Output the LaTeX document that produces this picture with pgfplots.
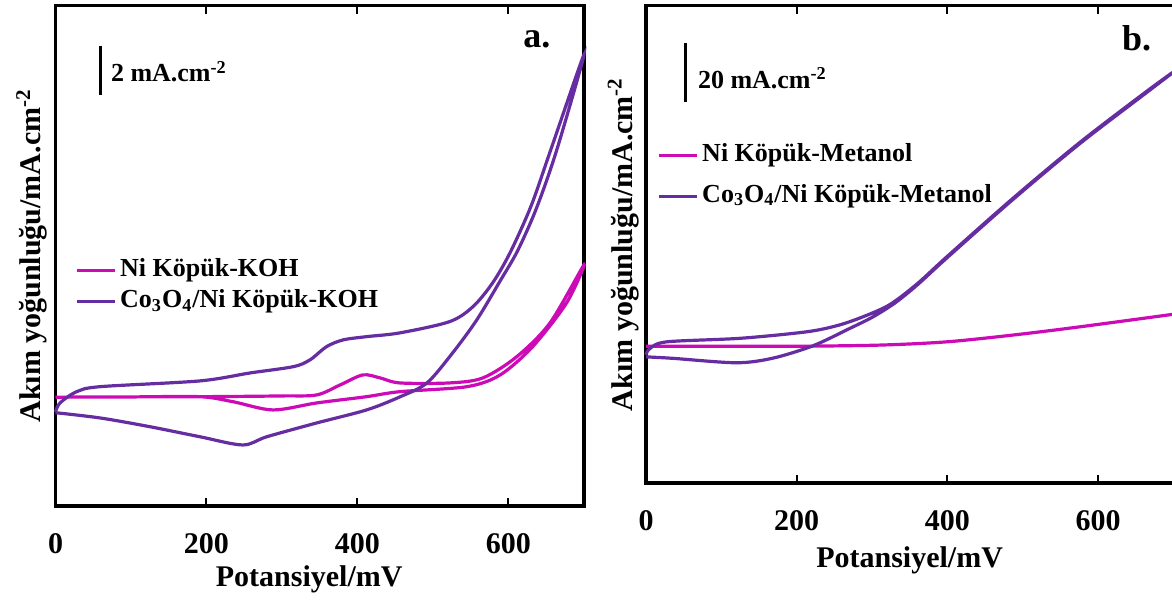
\documentclass[border=0pt]{standalone}
\usepackage{fontspec}
\setmainfont{Liberation Serif}
\usepackage{pgfplots}
\pgfplotsset{compat=1.18}
\definecolor{nimag}{RGB}{204,10,182}
\definecolor{copur}{RGB}{102,45,162}

\pgfplotsset{cvpanel/.style={
    scale only axis,
    anchor=south west,
    xmin=0, xmax=700,
    xtick={0,200,400,600},
    ytick=\empty,
    tick align=inside,
    major tick length=4bp,
    axis line style={line width=1.8bp},
    every tick/.style={black, line width=1bp},
    /pgf/number format/assume math mode=true,
    xticklabel style={font=\fontsize{15bp}{18bp}\selectfont\bfseries, anchor=center, yshift=-19bp},
    xlabel={Potansiyel/mV},
    ylabel={Akım yoğunluğu/mA.cm\textsuperscript{-2}},
    label style={font=\fontsize{15bp}{18bp}\selectfont\bfseries},
    legend cell align=left,
    legend style={draw=none, fill=none, inner sep=0pt, anchor=north west,
        font=\fontsize{13bp}{15bp}\selectfont\bfseries,
        nodes={text height=9bp, text depth=3bp, inner sep=1.75bp}},
    legend image code/.code={\draw[#1, line width=1.6bp] (0bp,0bp) -- (19bp,0bp);},
    every axis plot/.append style={line width=1.6bp, smooth, tension=0.5},
    clip=false,
}}

\begin{document}
\begin{tikzpicture}
% panel a
\begin{axis}[cvpanel,
    at={(27.75bp,47.5bp)}, width=264.25bp, height=250.15bp,
    ymin=0, ymax=20,
    xlabel style={at={(axis description cs:0.48,-0.146)}, anchor=center},
    ylabel style={at={(axis description cs:-0.045,0.5)}, anchor=center},
    legend style={at={(rel axis cs:0.037,0.502)}},
]
\addplot[nimag] coordinates {
    (0,4.35) (59,4.36) (191,4.37) (300,4.40) (346,4.44) (377,4.84) (407,5.24)
    (430,5.12) (456,4.92) (522,4.92) (566,5.12) (611,5.97) (655,7.32) (700,9.64)
    (677,8.12) (632,6.37) (589,5.24) (545,4.77) (456,4.57) (412,4.37) (346,4.12)
    (288,3.84) (235,4.17) (191,4.37) (100,4.36) (0,4.35)
};
\addlegendentry{Ni Köpük-KOH}
\addplot[copur] coordinates {
    (0,3.76) (6,4.12) (28,4.57) (59,4.77) (191,5.0) (258,5.32) (315,5.57)
    (337,5.84) (359,6.37) (381,6.64) (412,6.77) (456,6.92) (522,7.37) (553,7.97)
    (579,8.92) (602,10.12) (630,12.0) (656,14.24) (700,18.04)
    (664,14.24) (637,11.9) (612,10.2) (589,9.0) (558,7.44) (526,6.12) (492,4.92) (456,4.36)
    (412,3.84) (346,3.32) (280,2.77) (248,2.44) (191,2.77) (125,3.17) (59,3.52) (0,3.73)
};
\addlegendentry{Co\textsubscript{3}O\textsubscript{4}/Ni Köpük-KOH}
\draw[line width=1.5bp] (axis cs:59,18.4) -- (axis cs:59,16.44);
\node[anchor=west, inner sep=0pt, font=\fontsize{13bp}{15bp}\selectfont\bfseries]
    at (axis cs:73,17.36) {2 mA.cm\textsuperscript{-2}};
\node[font=\fontsize{18bp}{20bp}\selectfont\bfseries] at (rel axis cs:0.911,0.932) {a.};
\end{axis}
% panel b
\begin{axis}[cvpanel,
    at={(323bp,59bp)}, width=265.2bp, height=238.7bp,
    xmax=704, ymin=0, ymax=162,
    xlabel style={at={(axis description cs:0.497,-0.162)}, anchor=center},
    ylabel style={at={(axis description cs:-0.043,0.5)}, anchor=center},
    legend style={at={(rel axis cs:0.021,0.72)}, row sep=5bp},
]
\addplot[nimag] coordinates {
    (0,46.4) (100,46.4) (200,46.4) (311,46.8) (399,47.9) (487,50.2) (576,53.0) (704,57.4)
};
\addlegendentry{Ni Köpük-Metanol}
\addplot[copur] coordinates {
    (0,43.5) (5,45.6) (27.5,47.9) (125,49.1) (213,51.3) (255,53.5) (290,56.6) (324,60.6)
    (360,67.6) (399,76.7) (487,96.6) (576,115.6) (665,133.0) (704,140.2)
    (665,132.6) (576,115.2) (487,96.2) (399,76.3) (360,67.2) (330,61.0) (300,56.2)
    (270,52.4) (222,46.6) (169,42.4) (120,40.8) (36,42.3) (0,42.8)
};
\addlegendentry{Co\textsubscript{3}O\textsubscript{4}/Ni Köpük-Metanol}
\draw[line width=1.5bp] (axis cs:52.8,149.3) -- (axis cs:52.8,129.2);
\node[anchor=west, inner sep=0pt, font=\fontsize{13bp}{15bp}\selectfont\bfseries]
    at (axis cs:68.5,137.3) {20 mA.cm\textsuperscript{-2}};
\node[font=\fontsize{18bp}{20bp}\selectfont\bfseries] at (rel axis cs:0.925,0.932) {b.};
\end{axis}
\pgfresetboundingbox
\path (0,0) rectangle (586bp,300.5bp);
\end{tikzpicture}
\end{document}
